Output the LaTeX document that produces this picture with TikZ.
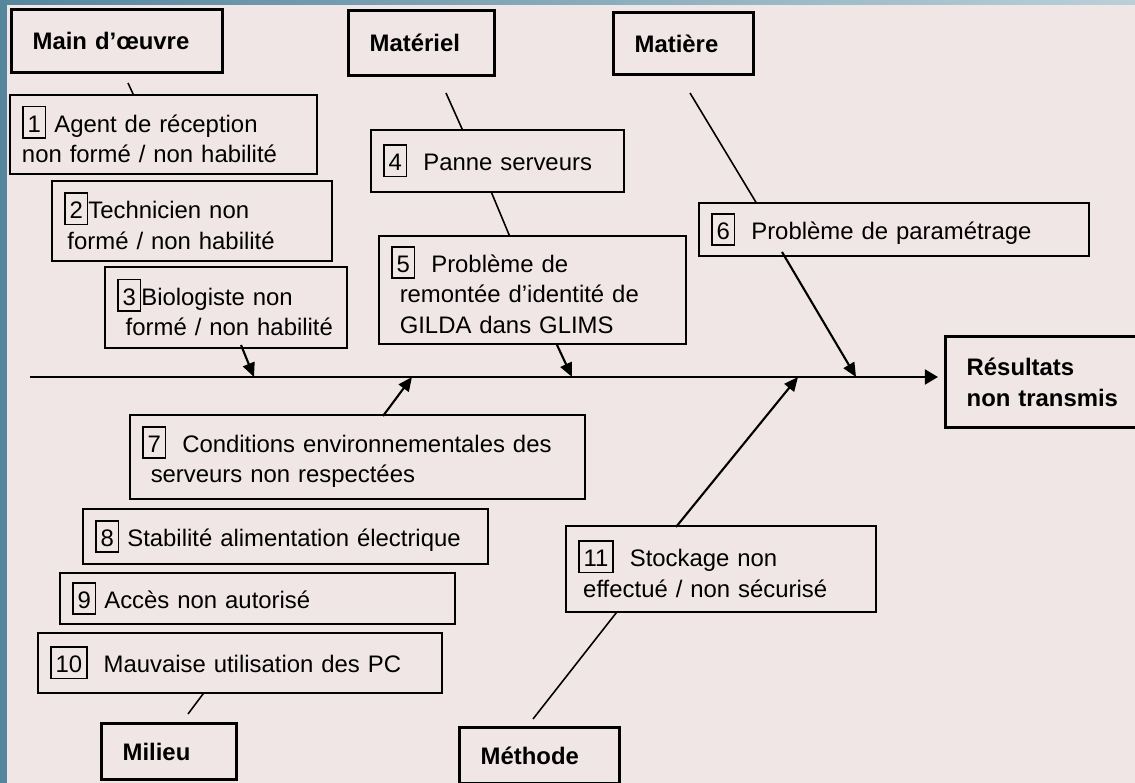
\documentclass[tikz,border=0pt]{standalone}
\usepackage{fontspec}
\setmainfont{Liberation Sans}
\usepackage{xcolor}
\usepackage{tikz}
\usetikzlibrary{arrows.meta}

\definecolor{papier}{HTML}{F1E6E6}
\definecolor{bordure}{HTML}{55869E}
\definecolor{bordureclair}{HTML}{BAD0D9}
\newcommand\nb[1]{{\setlength{\fboxsep}{0pt}\setlength{\fboxrule}{0.9pt}\fbox{\rule[-3pt]{0pt}{17pt}\,#1\,}}}

\begin{document}
\begin{tikzpicture}[x=0.02cm, y=-0.02cm,
            titre/.style={draw, fill=papier, line width=1.9pt, anchor=north west, align=left,
                inner xsep=0.42cm, inner ysep=0pt, font=\fontsize{13.6}{17.5}\selectfont\bfseries, text width=#1},
            cause/.style={draw, fill=papier, line width=1.1pt, anchor=north west, align=left,
                inner xsep=0.24cm, inner ysep=0pt, font=\fontsize{13.6}{17.5}\selectfont, text width=#1},
            branche/.style={line width=0.9pt},
            fleche/.style={-{Triangle[length=8pt,width=7pt]}, line width=1.2pt}]
            \useasboundingbox (0,0) rectangle (1135,783);
            \clip (0,0) rectangle (1135,783);
            \fill[papier] (0,0) rectangle (1135,783);
            \fill[bordure] (0,0) rectangle (7,783);
            \shade[left color=bordure, right color=bordureclair] (7,0) rectangle (1135,5);

            \coordinate (mo1) at (128,83);  \coordinate (mo2) at (134,96);
            \coordinate (mo3) at (241,345); \coordinate (mo4) at (254,377);
            \coordinate (ma1) at (446,93);  \coordinate (ma2) at (463,131);
            \coordinate (ma3) at (490,189); \coordinate (ma4) at (510,237);
            \coordinate (ma5) at (557,345); \coordinate (ma6) at (572,377);
            \coordinate (mt1) at (690,93);  \coordinate (mt2) at (757,204);
            \coordinate (mt3) at (782,252); \coordinate (mt4) at (856,377);
            \coordinate (mi1) at (188,714); \coordinate (mi2) at (206,690);
            \coordinate (mi3) at (383,416); \coordinate (mi4) at (412,377);
            \coordinate (me1) at (533,719); \coordinate (me2) at (620,608);
            \coordinate (me3) at (676,527); \coordinate (me4) at (798,377);
            \coordinate (debut) at (30,377);

            \draw[branche] (mo1) -- (mo2);
            \draw[branche] (ma1) -- (ma2);
            \draw[branche] (ma3) -- (ma4);
            \draw[branche] (mt1) -- (mt2);
            \draw[branche] (mi1) -- (mi2);
            \draw[branche] (me1) -- (me2);

            \node[titre=3.38cm, minimum height=1.26cm] (mainoeuvre) at (10,8) {Main d’œuvre};
            \node[titre=2.08cm, minimum height=1.30cm] (materiel) at (347,9) {Matériel};
            \node[titre=1.96cm, minimum height=1.24cm] (matiere) at (612,11) {Matière};
            \node[titre=1.86cm, minimum height=1.12cm] (milieu) at (100,722) {Milieu};
            \node[titre=2.36cm, minimum height=1.12cm] (methode) at (458,726) {Méthode};
            \node[titre=3.56cm, minimum height=1.82cm] (effet) at (944,335) {Résultats\\non transmis};

            \node[cause=5.66cm, minimum height=1.58cm] (c1) at (9,94) {\nb{1}\ Agent de réception\\non formé / non habilité};
            \node[cause=5.12cm, minimum height=1.60cm] (c2) at (51,180) {\nb{2}Technicien non\\\hspace*{2pt}formé / non habilité};
            \node[cause=4.36cm, minimum height=1.62cm] (c3) at (104,266) {\nb{3}Biologiste non\\\hspace*{5pt}formé / non habilité};
            \node[cause=4.58cm, minimum height=1.24cm] (c4) at (370,129) {\nb{4}\ \ Panne serveurs};
            \node[cause=5.66cm, minimum height=2.16cm] (c5) at (378,235) {\nb{5}\ \ Problème de\\\hspace*{5pt}remontée d’identité de\\\hspace*{5pt}GILDA dans GLIMS};
            \node[cause=7.32cm, minimum height=1.06cm] (c6) at (698,202) {\nb{6}\ \ Problème de paramétrage};
            \node[cause=8.62cm, minimum height=1.68cm] (c7) at (129,414) {\nb{7}\ \ Conditions environnementales des\\\hspace*{5pt}serveurs non respectées};
            \node[cause=7.62cm, minimum height=1.10cm] (c8) at (82,508) {\nb{8}\ Stabilité alimentation électrique};
            \node[cause=7.42cm, minimum height=1.02cm] (c9) at (59,572) {\nb{9}\ Accès non autorisé};
            \node[cause=7.60cm, minimum height=1.20cm] (c10) at (37,632) {\nb{10}\ \ Mauvaise utilisation des PC};
            \node[cause=5.72cm, minimum height=1.72cm] (c11) at (565,525) {\nb{11}\ \ Stockage non\\\hspace*{3pt}effectué / non sécurisé};

            \draw[fleche] (mo3) -- (mo4);
            \draw[fleche] (ma5) -- (ma6);
            \draw[fleche] (mt3) -- (mt4);
            \draw[fleche] (mi3) -- (mi4);
            \draw[fleche] (me3) -- (me4);
            \draw[line width=1.4pt, -{Triangle[length=7.5pt,width=8.5pt]}] (debut) -- ([xshift=-0.12cm]debut -| effet.west);
        \end{tikzpicture}
\end{document}
